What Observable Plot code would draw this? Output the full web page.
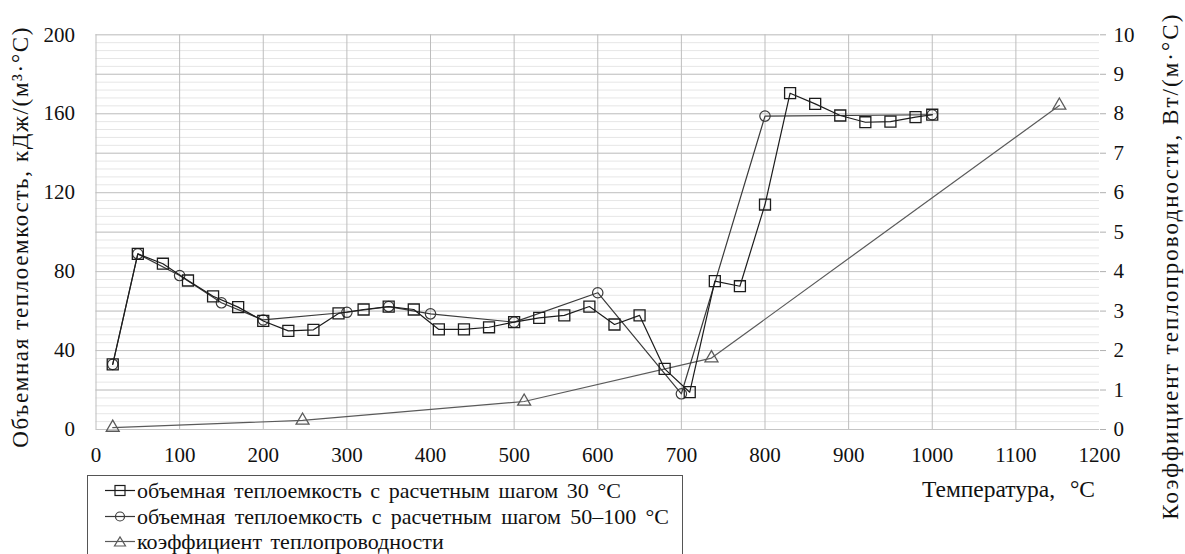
<!DOCTYPE html>
<html>
<head>
<meta charset="utf-8">
<script src="https://cdn.jsdelivr.net/npm/d3@7"></script>
<script src="https://cdn.jsdelivr.net/npm/@observablehq/plot@0.6"></script>
<style>
  html, body { margin: 0; padding: 0; background: #fff; overflow: hidden; width: 1185px; height: 554px; }
  body { position: relative; font-family: 'Liberation Serif', 'Times New Roman', serif; color: #111; }
  #chart { position: absolute; left: 0; top: 0; }
  #legend { position: absolute; left: 87px; top: 475px; width: 596px; height: 100px; border: 1px solid #555; box-sizing: border-box; padding-top: 2px; }
  .row { height: 25.5px; line-height: 25.5px; font-size: 22px; white-space: nowrap; display: flex; align-items: center; }
  .row svg { flex: none; margin-left: 17px; margin-right: 2px; }
  .row span { display: inline-block; }
  #xtitle { position: absolute; left: 922px; top: 476px; font-size: 23.5px; white-space: pre; line-height: 26px; }
</style>
</head>
<body>
<div id="chart"></div>
<div id="legend"></div>
<div id="xtitle"><span>Температура, °С</span></div>
<script>
// --- data ---
const temps30 = [20,50,80,110,140,170,200,230,260,290,320,350,380,410,440,470,500,530,560,590,620,650,680,710,740,770,800,830,860,890,920,950,980,1000];
const cap30   = [33,89,84,75.5,67.5,62,55,50,50.5,58.8,60.8,62.3,60.8,50.7,50.7,51.8,54.4,56.6,57.8,62.3,53.2,57.8,30.7,18.9,75.2,72.6,114,170.4,165,159.1,155.7,156,158.3,159.5];

const tempsStep = [20,50,100,150,200,300,350,400,500,600,700,800,1000];
const capStep   = [33,89,78,64.2,55.5,59.4,62.3,58.6,54.4,69.3,18.1,158.8,159.5];

const tempsK = [20,247,512,736,1152];
const condK  = [0.05,0.23,0.71,1.81,8.21];

const xTicks = [0,100,200,300,400,500,600,700,800,900,1000,1100,1200];
const leftTicks = [0,40,80,120,160,200];
const rightTicks = [0,1,2,3,4,5,6,7,8,9,10];

const seriesNames = [
  "объемная теплоемкость с расчетным шагом 30 °С",
  "объемная теплоемкость с расчетным шагом 50–100 °С",
  "коэффициент теплопроводности"
];
const leftTitle = "Объемная теплоемкость, кДж/(м³·°С)";
const rightTitle = "Коэффициент теплопроводности, Вт/(м·°С)";

// ratio between right axis (0..10) and left axis (0..200)
const ratio = 20;

const rows30 = temps30.map((t, i) => ({t, v: cap30[i]}));
const rowsStep = tempsStep.map((t, i) => ({t, v: capStep[i]}));
const rowsK = tempsK.map((t, i) => ({t, v: condK[i] * ratio}));

const c30 = "#1c1c1c", cStep = "#3a3a3a", cK = "#5a5a5a";
const serif = "'Liberation Serif', 'Times New Roman', serif";

const chart = Plot.plot({
  width: 1185,
  height: 474,
  marginLeft: 95.5,
  marginRight: 86,
  marginTop: 34.3,
  marginBottom: 45,
  x: {domain: [0, 1200]},
  y: {domain: [0, 200]},
  style: {fontFamily: serif, fontSize: "21px", color: "#111", background: "white", overflow: "visible"},
  marks: [
    Plot.gridY(d3.range(0, 201, 4), {stroke: "#e6e6e6", strokeOpacity: 1}),
    Plot.gridY(d3.range(0, 201, 20), {stroke: "#c4c4c4", strokeOpacity: 1}),
    Plot.gridX(xTicks.slice(0, -1), {stroke: "#bdbdbd", strokeOpacity: 1}),
    Plot.axisX(xTicks, {tickSize: 0, tickPadding: 18, label: null, fontSize: 21, fill: "#111", tickFormat: d => String(d)}),
    Plot.axisY(leftTicks, {anchor: "left", tickSize: 0, tickPadding: 21, fontSize: 21, fill: "#111", label: null, tickFormat: d => String(d)}),
    Plot.axisY(rightTicks.map(v => v * ratio), {anchor: "right", tickSize: 6, tickPadding: 8, fontSize: 21, fill: "#111",
      stroke: "#b0b0b0", tickFormat: d => String(d / ratio), label: null}),
    Plot.text([leftTitle], {frameAnchor: "left", dx: -75.5, dy: 5.5, rotate: -90, fontSize: 23,
      textAnchor: "middle", lineAnchor: "middle", fill: "#111", className: "ttl-left"}),
    Plot.text([rightTitle], {frameAnchor: "right", dx: 71, dy: 35, rotate: -90, fontSize: 23,
      textAnchor: "middle", lineAnchor: "middle", fill: "#111", className: "ttl-right"}),
    Plot.line(rowsK, {x: "t", y: "v", stroke: cK, strokeWidth: 1.2}),
    Plot.dot(rowsK, {x: "t", y: "v", symbol: "triangle", r: 4.8, stroke: cK, fill: "none", strokeWidth: 1.3}),
    Plot.line(rowsStep, {x: "t", y: "v", stroke: cStep, strokeWidth: 1.2}),
    Plot.dot(rowsStep, {x: "t", y: "v", symbol: "circle", r: 5.2, stroke: cStep, fill: "none", strokeWidth: 1.2}),
    Plot.line(rows30, {x: "t", y: "v", stroke: c30, strokeWidth: 1.2}),
    Plot.dot(rows30, {x: "t", y: "v", symbol: "square", r: 6.2, stroke: c30, fill: "none", strokeWidth: 1.3})
  ]
});
document.getElementById("chart").appendChild(chart);

// fit axis title lengths to the reference
function fitSvgText(sel, target) {
  d3.select(chart).selectAll(sel + " text").each(function() {
    this.setAttribute("textLength", target);
    this.setAttribute("lengthAdjust", "spacing");
  });
}
fitSvgText(".ttl-left", 420);
fitSvgText(".ttl-right", 505);

// legend
const symbols = [
  (g) => g.append("rect").attr("x", 10).attr("y", 5.5).attr("width", 10).attr("height", 10),
  (g) => g.append("circle").attr("cx", 15).attr("cy", 10.5).attr("r", 4.5),
  (g) => g.append("path").attr("d", "M9.5,15 L20.5,15 L15,6 Z")
];
const colors = [c30, cStep, cK];
const legendWidths = [484, 532, null];
const legend = d3.select("#legend");
seriesNames.forEach((name, i) => {
  const row = legend.append("div").attr("class", "row");
  const svg = row.append("svg").attr("width", 30).attr("height", 21);
  svg.append("line").attr("x1", 0).attr("x2", 30).attr("y1", 10.5).attr("y2", 10.5).attr("stroke", colors[i]).attr("stroke-width", 1.2);
  symbols[i](svg.append("g").attr("fill", "none").attr("stroke", colors[i]).attr("stroke-width", 1.2));
  row.append("span").text(name);
});
function fitWords(span, target) {
  if (!target) { span.style.wordSpacing = "3px"; return; }
  const w = span.getBoundingClientRect().width;
  const spaces = (span.textContent.match(/ /g) || []).length;
  if (spaces > 0) span.style.wordSpacing = ((target - w) / spaces) + "px";
}
legend.selectAll(".row span").each(function(d, i) { fitWords(this, legendWidths[i]); });
fitWords(document.querySelector("#xtitle span"), 173);
</script>
</body>
</html>
